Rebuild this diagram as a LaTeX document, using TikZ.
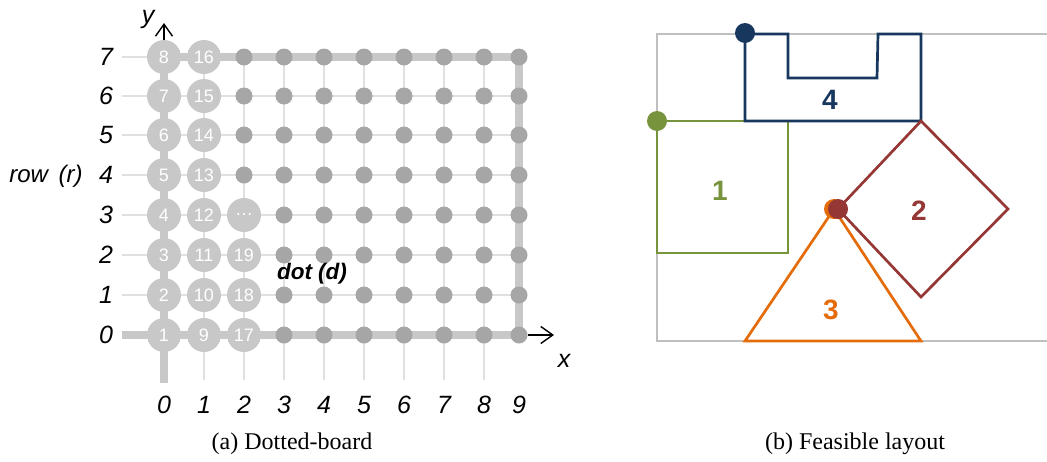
\documentclass[tikz,border=0pt]{standalone}
\usepackage{fontspec}
\setmainfont{Liberation Sans}
\newfontfamily\capfont{Liberation Serif}
\usetikzlibrary{arrows.meta}
\definecolor{bigc}{HTML}{C8C8C8}
\definecolor{dotc}{HTML}{A6A6A6}
\definecolor{gridc}{HTML}{E0E0E0}
\definecolor{framec}{HTML}{BFBFBF}
\definecolor{cgreen}{HTML}{77933C}
\definecolor{cnavy}{HTML}{17375E}
\definecolor{cred}{HTML}{953735}
\definecolor{corange}{HTML}{E46C0A}
\begin{document}
\begin{tikzpicture}[x=1pt,y=-1pt,
  big/.style={circle,fill=bigc,minimum size=34pt,inner sep=0pt,text=white,font=\fontsize{18}{18}\selectfont},
  smalldot/.style={circle,fill=dotc,minimum size=17pt,inner sep=0pt},
  gridline/.style={draw=gridc,line width=1.5pt},
  axisline/.style={draw=bigc,line width=8pt},
  arr/.style={draw=black,line width=1.4pt,-{Straight Barb[length=12pt,width=17pt,line width=1.4pt]}},
  axlab/.style={font=\fontsize{25}{25}\selectfont\itshape,inner sep=0pt},
  shapeline/.style={line width=2.7pt,line join=miter},
  anchordot/.style={circle,minimum size=20pt,inner sep=0pt},
  shlab/.style={font=\fontsize{28}{28}\selectfont\bfseries,inner sep=0pt},
  caption/.style={font=\capfont\fontsize{24}{24}\selectfont,inner sep=0pt}
]
\useasboundingbox (0,0) rectangle (1047,461);
% ---------- (a) dotted board ----------
\foreach \y in {335,295,255,215,175,135,96,57}
  \draw[gridline] (122,\y) -- (519,\y);
\foreach \x in {204,244,284,324,364,404,444,484}
  \draw[gridline] (\x,57) -- (\x,380);
\draw[axisline] (164,383) -- (164,57) -- (519,57) -- (519,335) -- (122,335);
% big circles
\foreach \r/\y in {0/335,1/295,2/255,3/215,4/175,5/135,6/96,7/57}{
  \pgfmathtruncatemacro\na{\r+1}
  \pgfmathtruncatemacro\nb{\r+9}
  \node[big] (b0-\r) at (164,\y) {\na};
  \node[big] (b1-\r) at (204,\y) {\nb};
}
\node[big] (b2-0) at (244,335) {17};
\node[big] (b2-1) at (244,295) {18};
\node[big] (b2-2) at (244,255) {19};
\node[big] (b2-3) at (244,215) {…};
\foreach \r/\y in {4/175,5/135,6/96,7/57}
  \node[smalldot] (d2-\r) at (244,\y) {};
\foreach \c/\x in {3/284,4/324,5/364,6/404,7/444,8/484,9/519}
  \foreach \r/\y in {0/335,1/295,2/255,3/215,4/175,5/135,6/96,7/57}
    \node[smalldot] (d\c-\r) at (\x,\y) {};
% axes arrows
\coordinate (xend) at (554,335);
\coordinate (yend) at (164,23);
\draw[arr] (d9-0.east) -- (xend);
\draw[arr] (b0-7.north) -- (yend);
\node[axlab] (xlab) at (564,361) {x};
\node[axlab] (ylab) at (148,19) {y};
% labels
\foreach \r/\y in {0/335,1/295,2/255,3/215,4/175,5/135,6/96,7/57}
  \node[axlab] (rl-\r) at (106,\y) {\r};
\foreach \c/\x in {0/164,1/204,2/244,3/284,4/324,5/364,6/404,7/444,8/484,9/519}
  \node[axlab] (cl-\c) at (\x,405) {\c};
\node[axlab,font=\fontsize{24}{24}\selectfont\itshape] (rowlab) at (46,176) {row\hspace{0.45em}(r)};
\node[axlab,font=\fontsize{22.5}{22.5}\selectfont\bfseries\itshape] (dotlab) at (312,274) {dot (d)};
\node[caption] (capa) at (292,444) {(a) Dotted-board};
% ---------- (b) feasible layout ----------
\draw[draw=framec,line width=2.5pt] (1050,34) -- (657,34) -- (657,341) -- (1050,341);
% shape 1
\draw[shapeline,cgreen] (657,121) rectangle (788,253);
\node[shlab,text=cgreen] (l1) at (720,191) {1};
% shape 4
\draw[shapeline,cnavy] (745,34) -- (788,34) -- (788,78) -- (877,78) -- (878,34) -- (921,34) -- (921,121) -- (745,121) -- cycle;
\node[shlab,text=cnavy] (l4) at (830,100) {4};
% shape 3
\draw[shapeline,corange] (834,209) -- (921,341) -- (745,341) -- cycle;
\node[shlab,text=corange] (l3) at (831,310) {3};
% shape 2
\draw[shapeline,cred] (921,121) -- (1008,209) -- (921,297) -- (838,209) -- cycle;
\node[shlab,text=cred] (l2) at (919,211) {2};
% anchor dots
\node[anchordot,fill=cgreen] (a1) at (657,121) {};
\node[anchordot,fill=cnavy] (a4) at (745,33) {};
\node[anchordot,fill=corange] (a3) at (834,209) {};
\node[anchordot,fill=cred] (a2) at (838,209) {};
\node[caption] (capb) at (855,444) {(b) Feasible layout};
\end{tikzpicture}
\end{document}
